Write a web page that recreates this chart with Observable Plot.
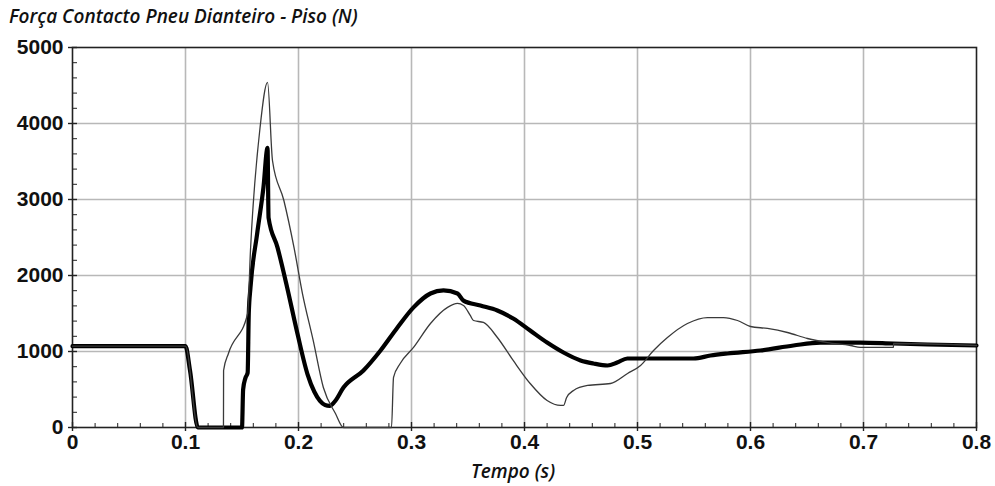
<!DOCTYPE html>
<html>
<head>
<meta charset="utf-8">
<script src="https://cdn.jsdelivr.net/npm/d3@7"></script>
<script src="https://cdn.jsdelivr.net/npm/@observablehq/plot@0.6"></script>
<style>
  html, body { margin: 0; padding: 0; background: #fff; }
  #wrap { position: relative; width: 995px; height: 486px; overflow: hidden; }
  #title { position: absolute; left: 9px; top: 3px; font-family: "Open Sans", sans-serif; font-style: italic; font-weight: 600; font-size: 19px; color: #111; white-space: nowrap; }
  #xlabel { position: absolute; left: 471px; top: 458px; font-family: "Open Sans", sans-serif; font-style: italic; font-weight: 600; font-size: 19px; color: #111; white-space: nowrap; }
  #chart { position: absolute; left: 0; top: 0; }
</style>
</head>
<body>
<div id="wrap">
  <div id="chart"></div>
  <div id="title">Força Contacto Pneu Dianteiro - Piso (N)</div>
  <div id="xlabel">Tempo (s)</div>
</div>
<script>
// Tick values
const xMajor = [0, 0.1, 0.2, 0.3, 0.4, 0.5, 0.6, 0.7, 0.8];
const xGrid = [0.1, 0.2, 0.3, 0.4, 0.5, 0.6, 0.7];
const xMinor = d3.range(0, 41).map(i => i / 50);
const yMajor = [0, 1000, 2000, 3000, 4000, 5000];
const yGrid = [1000, 2000, 3000, 4000];
const yMinor = d3.range(0, 26).map(i => i * 200);

// Thick series: time (s), force (N)
const thickT = [0, 0.100, 0.104, 0.111, 0.150, 0.151, 0.153, 0.155, 0.156, 0.1575, 0.1634, 0.169, 0.1726, 0.1735,
  0.1814, 0.190, 0.199, 0.208, 0.214, 0.219, 0.2235, 0.2275, 0.232, 0.2398, 0.2575, 0.2726, 0.2876, 0.3018, 0.3168,
  0.3283, 0.3407, 0.346, 0.361, 0.376, 0.390, 0.405, 0.420, 0.4345, 0.4496, 0.461, 0.4735, 0.482,
  0.491, 0.520, 0.5496, 0.5646, 0.5796, 0.6088, 0.638, 0.662, 0.697, 0.7265, 0.7566, 0.8];
const thickF = [1070, 1070, 750, 0, 0, 500, 650, 720, 1500, 1840, 2550, 3160, 3680, 2760,
  2370, 1840, 1240, 700, 470, 350, 295, 285, 340, 525, 750, 1013, 1316, 1580, 1763,
  1803, 1763, 1670, 1605, 1540, 1434, 1276, 1118, 987, 882, 842, 816, 855,
  908, 908, 908, 947, 974, 1013, 1079, 1118, 1118, 1105, 1092, 1079];

// Thin series: time (s), force (N)
const thinT = [0, 0.100, 0.111, 0.1336, 0.1337, 0.138, 0.155, 0.1575, 0.166, 0.1726, 0.177, 0.187,
  0.196, 0.2035, 0.213, 0.222, 0.2327, 0.2398, 0.2823, 0.2841, 0.290, 0.3018, 0.3168, 0.3319,
  0.3407, 0.346, 0.352, 0.3549, 0.3637, 0.376, 0.390, 0.405, 0.420, 0.4319, 0.4345, 0.4373,
  0.4434, 0.4558, 0.4761, 0.4912, 0.5027, 0.5142, 0.5265, 0.5442, 0.5619, 0.5761, 0.5885,
  0.600, 0.615, 0.6327, 0.6504, 0.6681, 0.6885, 0.6973, 0.7265, 0.7266, 0.8];
const thinF = [1070, 1070, 0, 0, 750, 974, 1500, 2330, 3950, 4540, 3510, 2990,
  2370, 1763, 1145, 526, 184, 0, 0, 660, 842, 1053, 1368, 1580,
  1632, 1605, 1474, 1408, 1382, 1184, 882, 579, 355, 290, 290, 395,
  487, 553, 579, 711, 816, 1013, 1184, 1368, 1447, 1447, 1408,
  1329, 1303, 1250, 1171, 1118, 1079, 1053, 1053, 1105, 1079];

const thick = thickT.map((t, i) => ({t, f: thickF[i]}));
const thin = thinT.map((t, i) => ({t, f: thinF[i]}));

const font = '"Liberation Sans", Arial, sans-serif';

const chart = Plot.plot({
  width: 995,
  height: 486,
  marginLeft: 72,
  marginRight: 19,
  marginTop: 47,
  marginBottom: 59,
  style: {fontFamily: font, background: "white", overflow: "visible"},
  x: {domain: [0, 0.8], label: null},
  y: {domain: [0, 5000], label: null},
  marks: [
    Plot.ruleX(xGrid, {stroke: "#b8b8b8", strokeWidth: 1.6}),
    Plot.ruleY(yGrid, {stroke: "#b8b8b8", strokeWidth: 1.6}),
    Plot.frame({stroke: "#222", strokeWidth: 1.6}),
    // minor ticks
    Plot.axisX({ticks: xMinor, tickSize: 4, dy: -4, fill: "none", stroke: "#222", label: null}),
    Plot.axisY({ticks: yMinor, tickSize: 5, dx: 5, fill: "none", stroke: "#222", label: null}),
    // major ticks (crossing)
    Plot.axisX({ticks: xMajor, tickSize: 9, dy: -5, fill: "none", stroke: "#222", strokeWidth: 1.4, label: null}),
    Plot.axisY({ticks: yMajor, tickSize: 9, dx: 5, fill: "none", stroke: "#222", strokeWidth: 1.4, label: null}),
    // labels
    Plot.axisX({ticks: xMajor, tickSize: 0, tickPadding: 7, fontSize: 21, fontWeight: "bold", fill: "#111",
      tickFormat: d => d === 0 ? "0" : d3.format(".1f")(d), label: null}),
    Plot.axisY({ticks: yMajor, tickSize: 0, tickPadding: 9, fontSize: 21, fontWeight: "bold", fill: "#111",
      tickFormat: d => String(d), label: null}),
    Plot.line(thick, {x: "t", y: "f", stroke: "#000", strokeWidth: 4.2, strokeLinejoin: "round", curve: "monotone-x"}),
    Plot.line(thin, {x: "t", y: "f", stroke: "#3a3a3a", strokeWidth: 1.3, curve: "monotone-x"})
  ]
});
document.getElementById("chart").appendChild(chart);
</script>
</body>
</html>
